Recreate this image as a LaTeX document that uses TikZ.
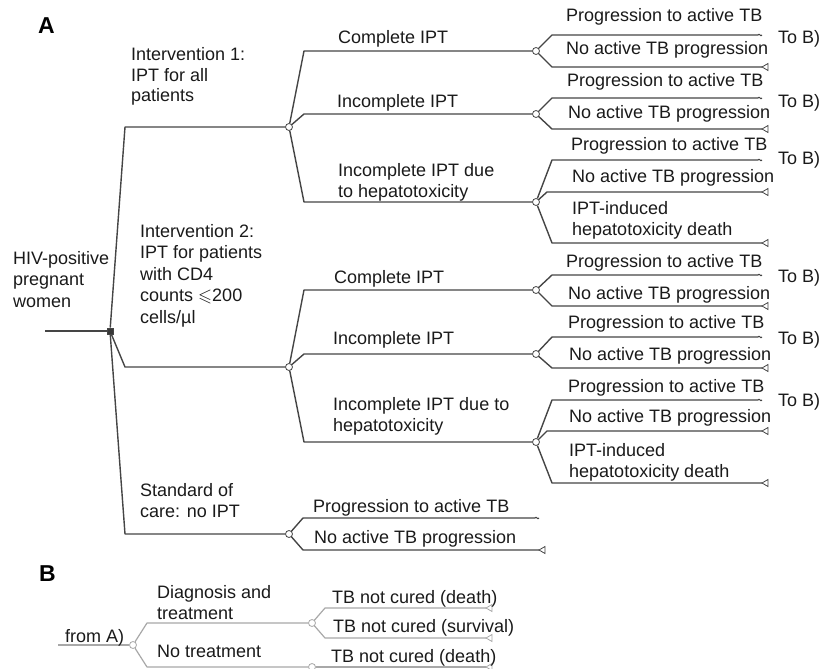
\documentclass[tikz,border=0pt]{standalone}
\usepackage{fontspec}
\usepackage{amssymb}
\setmainfont{Liberation Sans}
\definecolor{txt}{HTML}{1A1A1A}
\definecolor{lnA}{HTML}{454545}
\definecolor{lnB}{HTML}{A8A8A8}
\newcommand{\mlines}[1]{\begin{tabular}[t]{@{}l@{}}#1\end{tabular}}
\tikzset{
  pics/endtri/.style={code={\draw[pic actions, line width=0.8pt, fill=white] (0,0) -- (6,-3.5) -- (6,3.5) -- cycle;}},
  pics/endtil/.style={code={\draw[pic actions, line width=1pt] (0,0) .. controls (1.5,-2.5) and (2.5,2.5) .. (4,0);}},
}
\begin{document}
\begin{tikzpicture}[x=1pt,y=-1pt,
  lbl/.style={anchor=base west, inner sep=0, text=txt, font=\fontsize{18}{21.5}\selectfont},
  hdr/.style={anchor=base west, inner sep=0, text=black, font=\fontsize{23}{26}\selectfont\bfseries},
  br/.style={draw=lnA, line width=1.4pt, line join=round},
  brB/.style={draw=lnB, line width=1.2pt, line join=round},
  chance/.style={circle, draw=lnA, fill=white, line width=0.8pt, inner sep=0pt, minimum size=7pt},
  chanceB/.style={circle, draw=lnB, fill=white, line width=0.8pt, inner sep=0pt, minimum size=7pt},
  dec/.style={rectangle, draw=lnA, fill=lnA!80!black, inner sep=0pt, minimum size=6.5pt}]
\useasboundingbox (0,0) rectangle (825,669);

% ---------------- Part A ----------------
\node[hdr] (labA) at (38,34) {A};

\coordinate (root) at (45,331);
\node[dec] (d) at (110,331) {};
\node[chance] (c1) at (289,127) {};
\node[chance] (c2) at (289,367) {};
\node[chance] (c3) at (289,534) {};
\node[chance] (c11) at (536,51) {};
\node[chance] (c12) at (536,114) {};
\node[chance] (c13) at (536,202) {};
\node[chance] (c21) at (536,290) {};
\node[chance] (c22) at (536,354) {};
\node[chance] (c23) at (536,442) {};

\coordinate (t11a) at (758,35);  \coordinate (t11b) at (762,67);
\coordinate (t12a) at (758,98);  \coordinate (t12b) at (762,129);
\coordinate (t13a) at (758,160); \coordinate (t13b) at (762,192); \coordinate (t13c) at (762,243);
\coordinate (t21a) at (758,275); \coordinate (t21b) at (762,306);
\coordinate (t22a) at (758,337); \coordinate (t22b) at (762,368);
\coordinate (t23a) at (758,400); \coordinate (t23b) at (762,431); \coordinate (t23c) at (762,483);
\coordinate (t3a) at (535,518);  \coordinate (t3b) at (539,550);

\draw[br] (root) -- (d);
\draw[br] (d) -- (125,127) -- (c1);
\draw[br] (d) -- (125,367) -- (c2);
\draw[br] (d) -- (125,534) -- (c3);

\draw[br] (c1) -- (304,51) -- (c11);
\draw[br] (c1) -- (304,114) -- (c12);
\draw[br] (c1) -- (304,202) -- (c13);
\draw[br] (c2) -- (304,290) -- (c21);
\draw[br] (c2) -- (304,354) -- (c22);
\draw[br] (c2) -- (304,442) -- (c23);

\draw[br] (c11) -- (552,35) -- (t11a);  \draw[br] (c11) -- (552,67) -- (t11b);
\draw[br] (c12) -- (552,98) -- (t12a);  \draw[br] (c12) -- (552,129) -- (t12b);
\draw[br] (c13) -- (552,160) -- (t13a); \draw[br] (c13) -- (547,192) -- (t13b); \draw[br] (c13) -- (552,243) -- (t13c);
\draw[br] (c21) -- (552,275) -- (t21a); \draw[br] (c21) -- (552,306) -- (t21b);
\draw[br] (c22) -- (552,337) -- (t22a); \draw[br] (c22) -- (552,368) -- (t22b);
\draw[br] (c23) -- (552,400) -- (t23a); \draw[br] (c23) -- (547,431) -- (t23b); \draw[br] (c23) -- (552,483) -- (t23c);
\draw[br] (c3) -- (303,518) -- (t3a);   \draw[br] (c3) -- (303,550) -- (t3b);

\foreach \e in {t11a,t12a,t13a,t21a,t22a,t23a,t3a} {\pic[draw=lnA] at (\e) {endtil};}
\foreach \e in {t11b,t12b,t13b,t13c,t21b,t22b,t23b,t23c,t3b} {\pic[draw=lnA] at (\e) {endtri};}

% labels A
\node[lbl] (lroot) at (13,264) {\mlines{HIV-positive\\pregnant\\women}};
\node[lbl] (li1) at (131,61) {\mlines{Intervention 1:\\[-1pt]IPT for all\\[-1pt]patients}};
\node[lbl] (li2) at (140,237) {\mlines{Intervention 2:\\IPT for patients\\with CD4\\counts $\leqslant$200\\cells/µl}};
\node[lbl] (li3) at (140,496) {\mlines{Standard of\\care: no IPT}};

\node[lbl] (l11) at (338,44) {Complete IPT};
\node[lbl] (l12) at (337,107) {Incomplete IPT};
\node[lbl] (l13) at (338,176) {\mlines{Incomplete IPT due\\to hepatotoxicity}};
\node[lbl] (l21) at (334,283) {Complete IPT};
\node[lbl] (l22) at (333,344) {Incomplete IPT};
\node[lbl] (l23) at (333,410) {\mlines{Incomplete IPT due to\\hepatotoxicity}};

\node[lbl] (o11a) at (566,22) {Progression to active TB};
\node[lbl] (o11b) at (566,55) {No active TB progression};
\node[lbl] (b11) at (778,44) {To B)};
\node[lbl] (o12a) at (567,86) {Progression to active TB};
\node[lbl] (o12b) at (568,118) {No active TB progression};
\node[lbl] (b12) at (778,107) {To B)};
\node[lbl] (o13a) at (571,150) {Progression to active TB};
\node[lbl] (o13b) at (572,182) {No active TB progression};
\node[lbl] (o13c) at (572,214) {\mlines{IPT-induced\\hepatotoxicity death}};
\node[lbl] (b13) at (778,164) {To B)};

\node[lbl] (o21a) at (566,267) {Progression to active TB};
\node[lbl] (o21b) at (568,299) {No active TB progression};
\node[lbl] (b21) at (778,282) {To B)};
\node[lbl] (o22a) at (568,328) {Progression to active TB};
\node[lbl] (o22b) at (569,360) {No active TB progression};
\node[lbl] (b22) at (778,344) {To B)};
\node[lbl] (o23a) at (568,392) {Progression to active TB};
\node[lbl] (o23b) at (569,422) {No active TB progression};
\node[lbl] (o23c) at (569,456) {\mlines{IPT-induced\\hepatotoxicity death}};
\node[lbl] (b23) at (778,406) {To B)};

\node[lbl] (o3a) at (313,512) {Progression to active TB};
\node[lbl] (o3b) at (314,543) {No active TB progression};

% ---------------- Part B ----------------
\node[hdr] (labB) at (39,581) {B};
\coordinate (fa) at (58,645);
\node[chanceB] (cb) at (133,645) {};
\node[chanceB] (cb1) at (312,623) {};
\node[chanceB] (cb2) at (312,667) {};
\coordinate (u1) at (486,608);
\coordinate (u2) at (486,638);
\coordinate (u3) at (486,667);

\draw[brB] (fa) -- (cb);
\draw[brB] (cb) -- (147,623) -- (cb1);
\draw[brB] (cb) -- (147,667) -- (cb2);
\draw[brB] (cb2) -- (u3);
\draw[brB] (cb1) -- (325,608) -- (u1);
\draw[brB] (cb1) -- (325,638) -- (u2);
\foreach \e in {u1,u2,u3} {\pic[draw=lnB] at (\e) {endtri};}

\node[lbl] (lfa) at (65,642) {from A)};
\node[lbl] (lb1) at (157,598) {\mlines{Diagnosis and\\treatment}};
\node[lbl] (lb2) at (157,657) {No treatment};
\node[lbl] (ob1) at (332,603) {TB not cured (death)};
\node[lbl] (ob2) at (333,632) {TB not cured (survival)};
\node[lbl] (ob3) at (331,662) {TB not cured (death)};
\end{tikzpicture}
\end{document}
